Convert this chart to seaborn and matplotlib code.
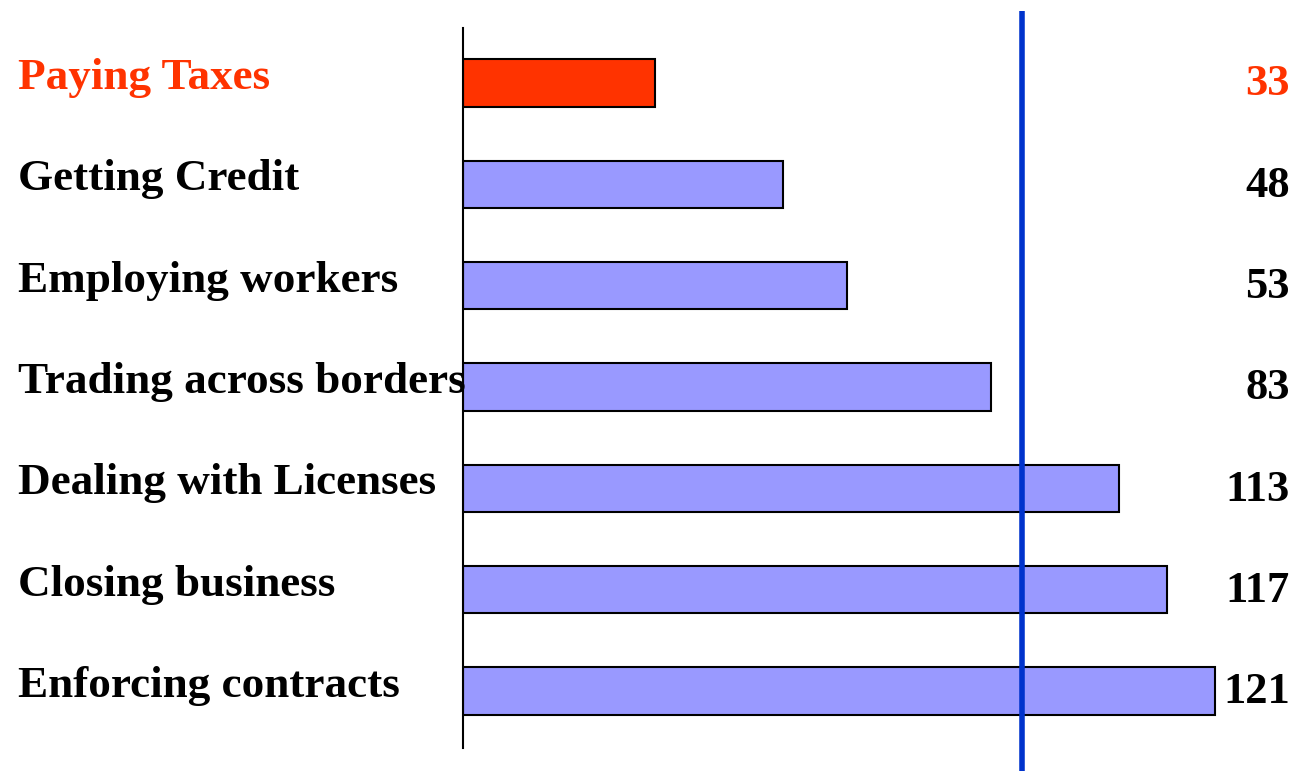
import matplotlib
matplotlib.use("Agg")
import matplotlib.pyplot as plt
import matplotlib.transforms as mtransforms
import seaborn as sns

# data
categories = ["Paying Taxes", "Getting Credit", "Employing workers", "Trading across borders",
              "Dealing with Licenses", "Closing business", "Enforcing contracts"]
ranks = [33, 48, 53, 83, 113, 117, 121]
# bar lengths as drawn (not proportional to the rank labels)
bar_lengths = [3.0, 5.0, 6.0, 8.25, 10.25, 11.0, 11.75]
ref_line = 8.73
highlight = "Paying Taxes"

red = "#FF3300"
bar_blue = "#9999FF"
line_blue = "#0033CC"

sns.set_style("white")
plt.rcParams["font.family"] = ["Liberation Serif", "DejaVu Serif"]

W, H = 1296, 771
fig = plt.figure(figsize=(W / 100, H / 100), dpi=100)
ax = fig.add_axes([463 / W, (H - 748) / H, (W - 463) / W, 720 / H])

colors = [red if c == highlight else bar_blue for c in categories]
sns.barplot(x=bar_lengths, y=categories, hue=categories, palette=colors, legend=False,
            orient="h", width=0.47, edgecolor="black", linewidth=1.5, saturation=1, ax=ax)

ax.set_xlim(0, (W - 463) / 64)
ax.set_ylim(6.5625, -0.543)

ax.axvline(ref_line, ymin=(748 - 771) / 720, ymax=(748 - 11) / 720, color=line_blue,
           linewidth=4, clip_on=False, zorder=5, solid_capstyle="butt")

for s in ["top", "right", "bottom"]:
    ax.spines[s].set_visible(False)
ax.spines["left"].set_linewidth(1.5)
ax.spines["left"].set_color("black")
ax.set_xticks([])
ax.set_yticks([])
ax.set_xlabel("")
ax.set_ylabel("")

trans = mtransforms.blended_transform_factory(fig.transFigure, ax.transData)
for i, (cat, r) in enumerate(zip(categories, ranks)):
    col = red if cat == highlight else "black"
    ax.text(18 / W, i + 0.06, cat, transform=trans, ha="left", va="baseline",
            fontsize=32.5, fontweight="bold", color=col)
    ax.text(1290 / W, i + 0.12, str(r), transform=trans, ha="right", va="baseline",
            fontsize=32, fontweight="bold", color=col)

fig.savefig("out.png", dpi=100, facecolor="white")
